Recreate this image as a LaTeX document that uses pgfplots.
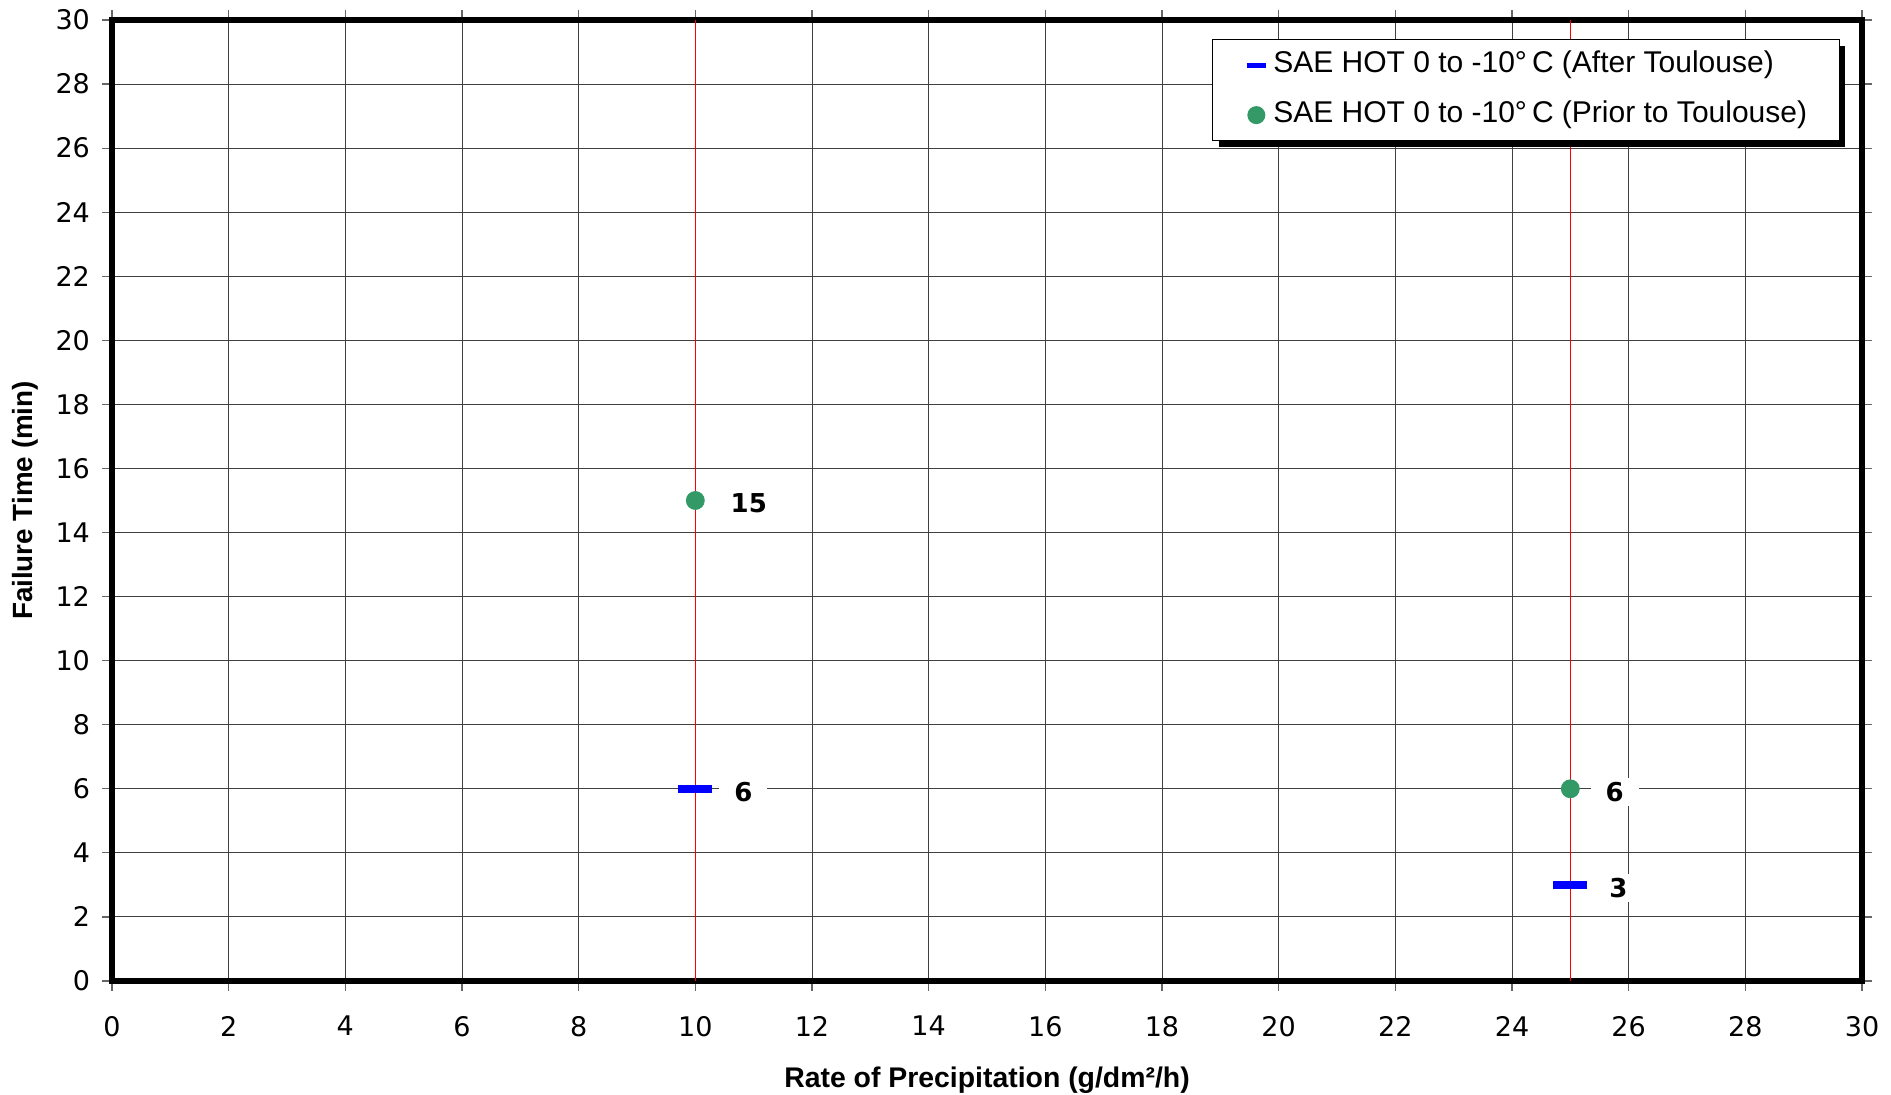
\documentclass[border=0pt]{standalone}
\usepackage{fontspec}
\setmainfont{Liberation Sans}
\newfontfamily\dejavu{DejaVu Sans}
\usepackage{pgfplots}
\pgfplotsset{compat=1.18}
\usetikzlibrary{shadows}
\definecolor{hotgreen}{RGB}{51,153,102}
\makeatletter
\tikzset{no preactions/.code={\let\tikz@preactions\pgfutil@empty}}
\makeatother
\begin{document}
\begin{tikzpicture}
\useasboundingbox (-56pt,-57pt) rectangle (889.5pt,490.5pt);
\begin{axis}[
  at={(0pt,0pt)}, anchor=south west,
  scale only axis, width=875pt, height=480.5pt,
  xmin=0, xmax=30, ymin=0, ymax=30,
  xtick={0,2,...,30}, ytick={0,2,...,30},
  grid=major, major grid style={black!75, line width=0.5pt},
  axis line style={line width=3pt, line join=miter},
  tick align=outside, major tick length=5pt,
  tick style={black!60, line width=0.6pt},
  /pgf/number format/assume math mode=true,
  ticklabel style={font=\dejavu\fontsize{13.5}{16}\selectfont},
  xticklabel style={yshift=-9pt},
  yticklabel style={xshift=-2.5pt},
  xlabel={Rate of Precipitation (g/dm²/h)},
  ylabel={Failure Time (min)},
  label style={font=\fontsize{14.2}{17}\selectfont\bfseries},
  xlabel style={at={(axis description cs:0.5,-0.103)}, anchor=center},
  ylabel style={at={(axis description cs:-0.0494,0.5)}, anchor=center, font=\fontsize{13.9}{17}\selectfont\bfseries},
  legend cell align=left,
  legend style={at={(0.6286,0.9802)}, anchor=north west, draw=black,
    line width=0.6pt, fill=white, inner xsep=14pt, inner ysep=5.5pt,
    /tikz/row sep=10.5pt,
    nodes={inner ysep=0pt, inner xsep=2pt, text height=11pt, text depth=3.5pt},
    font=\fontsize{15}{18}\selectfont,
    drop shadow={shadow xshift=3pt, shadow yshift=-3pt, fill=black, opacity=1}},
]
\addplot[red, line width=0.5pt, forget plot] coordinates {(10,0) (10,30)};
\addplot[red, line width=0.5pt, forget plot] coordinates {(25,0) (25,30)};

\addplot[only marks, mark=-, mark size=8.5pt, mark options={blue, line width=4pt},
  point meta=explicit symbolic, nodes near coords,
  nodes near coords style={anchor=west, xshift=10pt, yshift=-1.5pt, fill=white, inner xsep=7.5pt,
    inner ysep=2pt, text=black, font=\dejavu\fontsize{13}{15}\selectfont\bfseries},
  legend image code/.code={\path[no preactions, draw=none, fill=none] (-3pt,0pt) -- (11.3pt,0pt);
    \draw[no preactions, blue, line width=2.5pt] (0pt,0pt) -- (9.7pt,0pt);}]
  coordinates {(10,6)[6] (25,3)[3]};
\addlegendentry{SAE HOT 0 to -10°\,C (After Toulouse)}

\addplot[only marks, mark=*, mark size=4.5pt, mark options={hotgreen, draw=hotgreen, fill=hotgreen},
  point meta=explicit symbolic, nodes near coords,
  nodes near coords style={anchor=west, xshift=10pt, yshift=-1.5pt, fill=white, inner xsep=7.5pt,
    inner ysep=2pt, text=black, font=\dejavu\fontsize{13}{15}\selectfont\bfseries},
  legend image code/.code={\path[no preactions, draw=none, fill=none] (-3pt,0pt) -- (11.3pt,0pt);
    \fill[no preactions, hotgreen] (4.85pt,0pt) circle (4.2pt);}]
  coordinates {(10,15)[15] (25,6)[6]};
\addlegendentry{SAE HOT 0 to -10°\,C (Prior to Toulouse)}
\end{axis}
\end{tikzpicture}
\end{document}
